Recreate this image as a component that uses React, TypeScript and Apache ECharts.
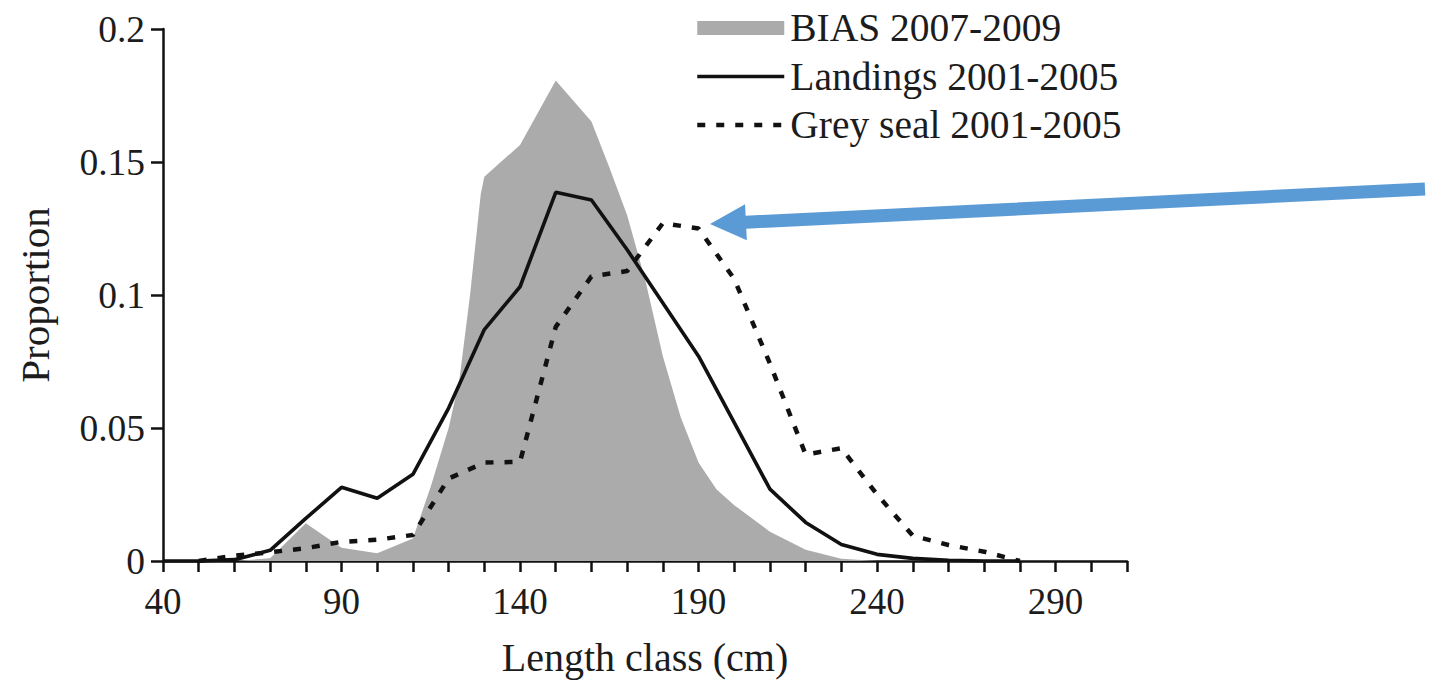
import React, { useEffect, useRef } from "react";
import * as echarts from "echarts";

// ---------- data ----------
const biasLength = [40, 50, 60, 70, 80, 90, 100, 110, 115, 120, 123, 126, 129, 130, 140, 150, 160, 165, 170, 175, 180, 185, 190, 195, 200, 210, 220, 230, 240, 250];
const biasProportion = [0, 0, 0, 0.001, 0.0142, 0.005, 0.0029, 0.0085, 0.028, 0.05, 0.068, 0.1, 0.138, 0.1445, 0.1564, 0.1806, 0.1652, 0.148, 0.13, 0.106, 0.077, 0.054, 0.037, 0.027, 0.021, 0.011, 0.0042, 0.0008, 0, 0];

const lengthClasses = [40, 50, 60, 70, 80, 90, 100, 110, 120, 130, 140, 150, 160, 170, 180, 190, 200, 210, 220, 230, 240, 250, 260, 270, 280];
const landings = [0, 0, 0.0005, 0.004, 0.016, 0.0277, 0.0236, 0.0326, 0.0575, 0.087, 0.1031, 0.1386, 0.1357, 0.117, 0.097, 0.077, 0.052, 0.027, 0.0145, 0.0062, 0.0025, 0.001, 0.0003, 0, 0];
const greySeal = [null, 0, 0.002, 0.0033, 0.0048, 0.0072, 0.008, 0.0098, 0.031, 0.037, 0.0373, 0.088, 0.107, 0.109, 0.127, 0.125, 0.106, 0.0742, 0.04, 0.0424, 0.025, 0.0095, 0.006, 0.0035, 0];

const xTickLabels = [40, 90, 140, 190, 240, 290];
const seriesNames = ["BIAS 2007-2009", "Landings 2001-2005", "Grey seal 2001-2005"];

const W = 1438;
const H = 688;
const FONT = "Liberation Serif";
const TXT = "#1c1c1c";

function arrowPoints(tip: number[], tail: number[], headLen: number, headHalf: number, shaftHalf: number) {
  const dx = tip[0] - tail[0];
  const dy = tip[1] - tail[1];
  const len = Math.hypot(dx, dy);
  const ux = dx / len;
  const uy = dy / len;
  const nx = -uy;
  const ny = ux;
  const bx = tip[0] - ux * headLen;
  const by = tip[1] - uy * headLen;
  return [
    tip,
    [bx + nx * headHalf, by + ny * headHalf],
    [bx + nx * shaftHalf, by + ny * shaftHalf],
    [tail[0] + nx * shaftHalf, tail[1] + ny * shaftHalf],
    [tail[0] - nx * shaftHalf, tail[1] - ny * shaftHalf],
    [bx - nx * shaftHalf, by - ny * shaftHalf],
    [bx - nx * headHalf, by - ny * headHalf],
  ];
}

export default function App() {
  const ref = useRef<HTMLDivElement>(null);

  useEffect(() => {
    if (!ref.current) return;
    const chart = echarts.init(ref.current, null, { renderer: "svg" });

    const biasData = biasLength.map((x, i) => [x, biasProportion[i]]);
    const landData = lengthClasses.map((x, i) => [x, landings[i]]);
    const sealData = lengthClasses
      .map((x, i) => [x, greySeal[i]])
      .filter((d) => d[1] !== null);

    const axisLine = { show: true, lineStyle: { color: "#111", width: 2.5 } };
    const hiddenSymbol = { color: "transparent", borderColor: "transparent", borderWidth: 0, opacity: 0 };

    const option: any = {
      animation: false,
      backgroundColor: "#ffffff",
      grid: { left: 163, right: W - 1127, top: 29, bottom: H - 561, containLabel: false },
      legend: {
        orient: "vertical",
        left: 690,
        top: 2,
        itemWidth: 87,
        itemHeight: 14,
        itemGap: 6.5,
        selectedMode: false,
        textStyle: {
          fontFamily: FONT,
          fontSize: 39.5,
          color: TXT,
          lineHeight: 42,
          padding: [0, 0, 0, 1],
        },
        data: [
          { name: seriesNames[0], icon: "rect" },
          {
            name: seriesNames[1],
            itemStyle: hiddenSymbol,
            lineStyle: { width: 3.6, color: "#111111", type: "solid" },
          },
          {
            name: seriesNames[2],
            itemStyle: hiddenSymbol,
            lineStyle: { width: 4.5, color: "#111111", type: [8, 11] },
          },
        ],
      },
      xAxis: {
        type: "value",
        min: 40,
        max: 310,
        interval: 10,
        name: "Length class (cm)",
        nameLocation: "middle",
        nameGap: 76,
        nameTextStyle: { fontFamily: FONT, fontSize: 40, color: TXT },
        axisLine,
        axisTick: { show: true, length: 11, lineStyle: { color: "#111", width: 2.5 } },
        axisLabel: {
          margin: 22,
          fontFamily: FONT,
          fontSize: 37,
          color: TXT,
          formatter: (v: number) => (xTickLabels.includes(v) ? String(v) : ""),
        },
        splitLine: { show: false },
      },
      yAxis: {
        type: "value",
        min: 0,
        max: 0.2,
        interval: 0.05,
        name: "Proportion",
        nameLocation: "middle",
        nameGap: 108,
        nameRotate: 90,
        nameTextStyle: { fontFamily: FONT, fontSize: 41, color: TXT },
        axisLine,
        axisTick: { show: true, length: 12, lineStyle: { color: "#111", width: 2.5 } },
        axisLabel: { margin: 18, fontFamily: FONT, fontSize: 37.5, color: TXT },
        splitLine: { show: false },
      },
      series: [
        {
          name: seriesNames[0],
          type: "line",
          data: biasData,
          symbol: "none",
          color: "#ababab",
          lineStyle: { width: 0, color: "#ababab" },
          areaStyle: { color: "#ababab", opacity: 1 },
          z: 1,
        },
        {
          name: seriesNames[1],
          type: "line",
          data: landData,
          symbol: "none",
          color: "#111111",
          lineStyle: { width: 3.6, color: "#111111" },
          z: 2,
        },
        {
          name: seriesNames[2],
          type: "line",
          data: sealData,
          symbol: "none",
          color: "#111111",
          lineStyle: { width: 4.5, color: "#111111", type: [8, 11] },
          z: 3,
        },
      ],
      graphic: [
        {
          type: "polygon",
          shape: { points: arrowPoints([710, 224], [1425, 189], 36, 18, 6.5) },
          style: { fill: "#5b9bd5" },
          z: 10,
        },
      ],
    };

    chart.setOption(option);
    return () => chart.dispose();
  }, []);

  return (
    <div style={{ position: "fixed", left: 0, top: 0, width: W, height: H, background: "#fff" }}>
      <div ref={ref} style={{ width: W, height: H }} />
    </div>
  );
}
